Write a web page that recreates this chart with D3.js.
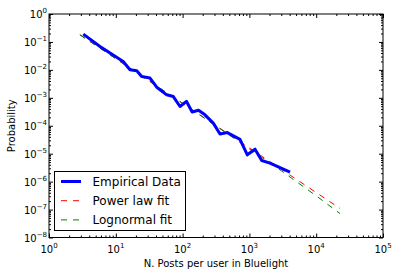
<!DOCTYPE html>
<html><head><meta charset="utf-8">
<script src="https://cdn.jsdelivr.net/npm/d3@7"></script>
<style>
html,body{margin:0;padding:0;background:#fff;}
svg{display:block;font-family:"DejaVu Sans",sans-serif;}
</style></head>
<body><svg id="c" width="399" height="278"></svg>
<script>
// Empirical distribution
const empX = [3.26,5.8,12.9,16.3,20.6,24.4,32.5,41,57.8,72.6,91.5,114,139,173,216,288,363,467,723,931,1214,1528,2033,4055];
const empY = [0.19,0.069,0.020,0.0101,0.0093,0.0058,0.0051,0.0024,0.00128,0.00111,0.00049,0.00075,0.00031,0.00036,0.000246,0.000124,5.1e-5,5.7e-5,3.26e-5,9.1e-6,1.45e-5,5.7e-6,4.6e-6,2.17e-6];
// Power law fit
const plX = [2.9,300,3000,22700];
const plY = [0.18,1.1e-4,2.77e-6,1.1e-7];
// Lognormal fit
const lnX = [2.9,30,300,3000,10000,22700];
const lnY = [0.18,0.0044,1.07e-4,2.45e-6,3.1e-7,7.2e-8];
// Ticks
const xTickExp = [0,1,2,3,4,5];
const yTickExp = [0,-1,-2,-3,-4,-5,-6,-7,-8];
const seriesNames = ["Empirical Data","Power law fit","Lognormal fit"];

const svg = d3.select("#c");
const L=49, R=383, T=14, B=237.5;
const x = d3.scaleLog().domain([1,1e5]).range([L,R]);
const y = d3.scaleLog().domain([1e-8,1]).range([B,T]);

const minorX=[], minorY=[];
for(let e=0;e<5;e++) for(let k=2;k<10;k++) minorX.push(k*Math.pow(10,e));
for(let e=-8;e<0;e++) for(let k=2;k<10;k++) minorY.push(k*Math.pow(10,e));
const majX = xTickExp.map(e=>Math.pow(10,e));
const majY = yTickExp.map(e=>Math.pow(10,e));

function tickAxis(g, axisFn, scale, vals, size){
  g.call(axisFn(scale).tickValues(vals).tickSize(size).tickFormat(""));
  g.select(".domain").remove();
  g.selectAll(".tick line").attr("stroke","#000").attr("stroke-width",1);
}
// bottom / top / left / right ticks (inward)
tickAxis(svg.append("g").attr("transform",`translate(0,${B})`), d3.axisBottom, x, majX, -4);
tickAxis(svg.append("g").attr("transform",`translate(0,${B})`), d3.axisBottom, x, minorX, -2);
tickAxis(svg.append("g").attr("transform",`translate(0,${T})`), d3.axisTop, x, majX, -4);
tickAxis(svg.append("g").attr("transform",`translate(0,${T})`), d3.axisTop, x, minorX, -2);
tickAxis(svg.append("g").attr("transform",`translate(${L},0)`), d3.axisLeft, y, majY, -4);
tickAxis(svg.append("g").attr("transform",`translate(${L},0)`), d3.axisLeft, y, minorY, -2);
tickAxis(svg.append("g").attr("transform",`translate(${R},0)`), d3.axisRight, y, majY, -4);
tickAxis(svg.append("g").attr("transform",`translate(${R},0)`), d3.axisRight, y, minorY, -2);

// clip
svg.append("clipPath").attr("id","clip").append("rect").attr("x",L).attr("y",T).attr("width",R-L).attr("height",B-T);
const plot = svg.append("g").attr("clip-path","url(#clip)");
const line = d3.line().x(d=>x(d[0])).y(d=>y(d[1]));
const zip=(a,b)=>a.map((v,i)=>[v,b[i]]);
plot.append("path").attr("d",line(zip(plX,plY))).attr("fill","none").attr("stroke","#ff0000").attr("stroke-width",1).attr("stroke-dasharray","6,6");
plot.append("path").attr("d",line(zip(lnX,lnY))).attr("fill","none").attr("stroke","#008000").attr("stroke-width",1).attr("stroke-dasharray","6,6");
plot.append("path").attr("d",line(zip(empX,empY))).attr("fill","none").attr("stroke","#0000ff").attr("stroke-width",3).attr("stroke-linejoin","round");

// frame
svg.append("rect").attr("x",L).attr("y",T).attr("width",R-L).attr("height",B-T).attr("fill","none").attr("stroke","#000").attr("stroke-width",1);

// tick labels
function sup(t, e){
  t.append("tspan").text("10");
  t.append("tspan").attr("dy",-5).attr("font-size",7).text(String(e).replace("-","\u2212"));
}
xTickExp.forEach(e=>{
  const t=svg.append("text").attr("x",x(Math.pow(10,e))).attr("y",253).attr("text-anchor","middle").attr("font-size",10).attr("fill","#000");
  sup(t,e);
});
yTickExp.forEach(e=>{
  const t=svg.append("text").attr("x",47).attr("y",y(Math.pow(10,e))+4).attr("text-anchor","end").attr("font-size",10).attr("fill","#000");
  sup(t,e);
});

// axis labels
svg.append("text").attr("x",(L+R)/2).attr("y",267).attr("text-anchor","middle").attr("font-size",10).text("N. Posts per user in Bluelight");
svg.append("text").attr("transform",`translate(15,${(T+B)/2}) rotate(-90)`).attr("text-anchor","middle").attr("font-size",10).text("Probability");

// legend
const lg = svg.append("g");
lg.append("rect").attr("x",54.5).attr("y",171.5).attr("width",131).attr("height",59).attr("fill","#fff").attr("stroke","#000").attr("stroke-width",1);
const lstyles=[{c:"#0000ff",w:3,d:null},{c:"#ff0000",w:1,d:"6,6"},{c:"#008000",w:1,d:"6,6"}];
seriesNames.forEach((n,i)=>{
  const yy=181.5+i*19.2;
  const p=lg.append("line").attr("x1",61).attr("x2",81).attr("y1",yy).attr("y2",yy).attr("stroke",lstyles[i].c).attr("stroke-width",lstyles[i].w);
  if(lstyles[i].d) p.attr("stroke-dasharray",lstyles[i].d);
  lg.append("text").attr("x",92.5).attr("y",yy+4.3).attr("font-size",12).text(n);
});
</script></body></html>
